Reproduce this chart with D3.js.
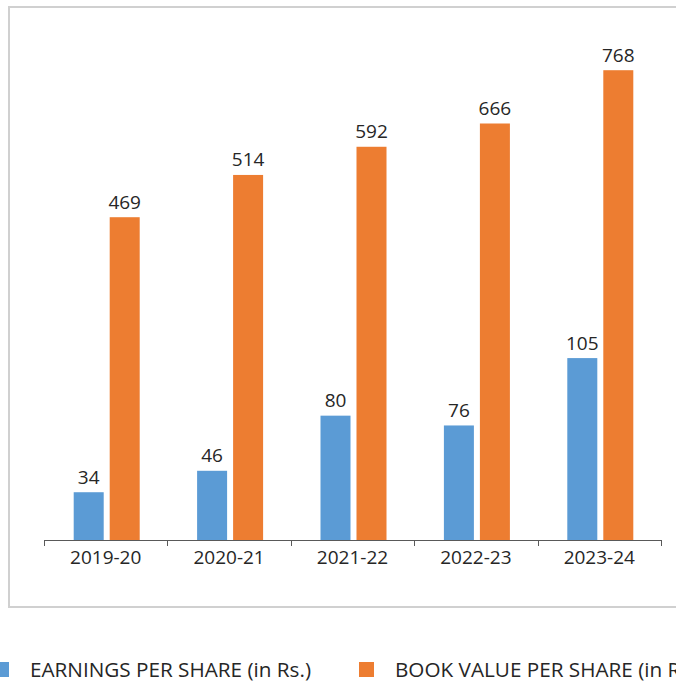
<!DOCTYPE html>
<html>
<head>
<meta charset="utf-8">
<script src="https://cdn.jsdelivr.net/npm/d3@7"></script>
<style>
  body { margin: 0; background: #fff; overflow: hidden; }
  svg { display: block; }
  text { font-family: "Open Sans", sans-serif; fill: #262626; }
</style>
</head>
<body>
<div id="chart"></div>
<script>
// categories + the numbers printed above the bars
var years = ["2019-20", "2020-21", "2021-22", "2022-23", "2023-24"];
var epsLabels = [34, 46, 80, 76, 105];
var bookLabels = [469, 514, 592, 666, 768];
// bar heights as drawn (read off the picture against a 0-800 axis;
// the original chart does not draw them to the printed numbers)
var epsBars = [78, 113, 203, 187, 297];
var bookBars = [527, 596, 642, 680, 767];
var seriesNames = ["EARNINGS PER SHARE (in Rs.)", "BOOK VALUE PER SHARE (in Rs.)"];
var colors = ["#5B9BD5", "#ED7D31"];

var width = 676, height = 682;
var axisY = 540;

var svg = d3.select("#chart").append("svg")
    .attr("width", width).attr("height", height);

// chart area border (right side runs off the page)
svg.append("rect")
    .attr("x", 9).attr("y", 7)
    .attr("width", 700).attr("height", 600)
    .attr("fill", "none")
    .attr("stroke", "#d0d0d0")
    .attr("stroke-width", 2);

var x0 = d3.scaleBand().domain(years).range([44, 661]).padding(0);
var x1 = d3.scaleBand().domain([0, 1])
    .range([(x0.bandwidth() - 66) / 2 + 1, (x0.bandwidth() + 66) / 2 + 1])
    .paddingInner(1 / 6).paddingOuter(0);
var y = d3.scaleLinear().domain([0, 800]).range([axisY, 50]);

var rows = years.map(function(d, i) {
    return {year: d, vals: [
        {s: 0, v: epsBars[i], lab: epsLabels[i]},
        {s: 1, v: bookBars[i], lab: bookLabels[i]}
    ]};
});

var g = svg.selectAll("g.grp")
    .data(rows).enter().append("g")
    .attr("class", "grp")
    .attr("transform", function(d) { return "translate(" + x0(d.year) + ",0)"; });

g.selectAll("rect")
    .data(function(d) { return d.vals; })
    .enter().append("rect")
    .attr("x", function(d) { return x1(d.s); })
    .attr("y", function(d) { return y(d.v); })
    .attr("width", x1.bandwidth())
    .attr("height", function(d) { return axisY - y(d.v); })
    .attr("fill", function(d) { return colors[d.s]; });

g.selectAll("text")
    .data(function(d) { return d.vals; })
    .enter().append("text")
    .attr("x", function(d) { return x1(d.s) + x1.bandwidth() / 2; })
    .attr("y", function(d) { return y(d.v) - 8.5; })
    .attr("text-anchor", "middle")
    .attr("font-size", "19px")
    .text(function(d) { return d.lab; });

// x axis with ticks between categories
svg.append("line")
    .attr("x1", 44).attr("x2", 661)
    .attr("y1", axisY + 0.5).attr("y2", axisY + 0.5)
    .attr("stroke", "#595959").attr("stroke-width", 1);

var tickPos = years.map(function(d) { return x0(d); }).concat([661]);
svg.selectAll("line.tick")
    .data(tickPos).enter().append("line")
    .attr("class", "tick")
    .attr("x1", function(d) { return Math.round(d) + 0.5; })
    .attr("x2", function(d) { return Math.round(d) + 0.5; })
    .attr("y1", axisY).attr("y2", axisY + 6)
    .attr("stroke", "#595959");

svg.selectAll("text.xlab")
    .data(years).enter().append("text")
    .attr("class", "xlab")
    .attr("x", function(d) { return x0(d) + x0.bandwidth() / 2; })
    .attr("y", 564)
    .attr("text-anchor", "middle")
    .attr("font-size", "19px")
    .text(function(d) { return d; });

// legend below the box (second entry runs off the right edge, as in the original)
var legX = [-6, 359];
var leg = svg.selectAll("g.leg")
    .data(seriesNames).enter().append("g")
    .attr("class", "leg")
    .attr("transform", function(d, i) { return "translate(" + legX[i] + ",662)"; });

leg.append("rect")
    .attr("width", 15).attr("height", 15)
    .attr("fill", function(d, i) { return colors[i]; });

leg.append("text")
    .attr("x", 36).attr("y", 15)
    .attr("font-size", "20.7px")
    .text(function(d) { return d; });
</script>
</body>
</html>
